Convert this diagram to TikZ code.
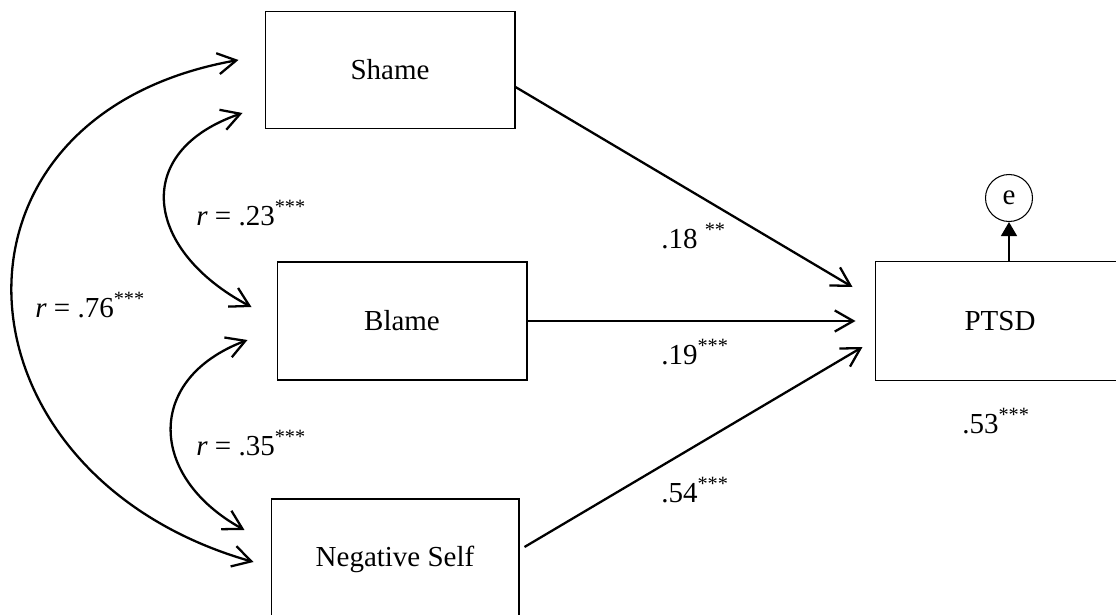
\documentclass[tikz,border=0pt]{standalone}
\usepackage{fontspec}
\setmainfont{Liberation Serif}
\usetikzlibrary{calc,positioning,arrows.meta}

\tikzset{
  varbox/.style={draw, line width=0.6pt, minimum width=5cm, minimum height=2.34cm, inner sep=0pt},
  effect/.style={line width=1.3pt, -{Straight Barb[length=10.5pt,width=12pt,line width=1.3pt]}},
  corr/.style={line width=1.3pt, {Straight Barb[length=10.5pt,width=12pt,line width=1.3pt]}-{Straight Barb[length=10.5pt,width=12pt,line width=1.3pt]}},
  coef/.style={anchor=base west, inner sep=0pt},
}

\begin{document}
\begin{tikzpicture}[x=0.02cm, y=-0.02cm, font=\fontsize{16.5}{19}\selectfont]
    \useasboundingbox (0,0) rectangle (1116,615);

    % Observed variables
    \node[varbox] (shame) at (390,70) {Shame};
    \node[varbox, minimum height=2.36cm] (blame) at (402,321) {Blame};
    \node[varbox, minimum width=4.96cm, minimum height=2.4cm] (negself) at (395,559) {Negative Self};
    \node[varbox, minimum height=2.38cm] (ptsd) at (1000,321) {PTSD};
    \node[draw, circle, line width=0.6pt, minimum size=0.94cm, inner sep=0pt] (err) at (1009,198) {e};

    % Paths to PTSD
    \draw[effect] ($(shame.east)+(0,17)$) -- ($(ptsd.west)+(-22,-34)$);
    \draw[effect] (blame.east) -- ($(ptsd.west)+(-19,0)$);
    \draw[effect] ($(negself.east)+(5,-12)$) -- ($(ptsd.west)+(-12,26)$);

    % Error term
    \draw[line width=1.3pt, -{Triangle[length=8pt,width=9pt]}] (ptsd.north -| err) -- (err);

    % Correlations
    \draw[corr] ($(shame.west)+(-26,-10)$) .. controls +(-315,56) and +(-308,-88) .. ($(negself.west)+(-17,3)$);
    \draw[corr] ($(shame.west)+(-22,43)$) .. controls +(-113,39) and +(-106,-56) .. ($(blame.west)+(-25,-14)$);
    \draw[corr] ($(blame.west)+(-29,19)$) .. controls +(-103,39) and +(-96,-53) .. ($(negself.west)+(-26,-29)$);

    % Coefficients
    \node[coef] (r76) at (35,317) {\textit{r} = .76\textsuperscript{***}};
    \node[coef] (r23) at (196,225) {\textit{r} = .23\textsuperscript{***}};
    \node[coef] (r35) at (196,455) {\textit{r} = .35\textsuperscript{***}};
    \node[coef] (b18) at (661,248) {.18 \textsuperscript{**}};
    \node[coef] (b19) at (661,364) {.19\textsuperscript{***}};
    \node[coef] (b54) at (661,502) {.54\textsuperscript{***}};
    \node[coef] (rsq) at (962,433) {.53\textsuperscript{***}};

\end{tikzpicture}
\end{document}
